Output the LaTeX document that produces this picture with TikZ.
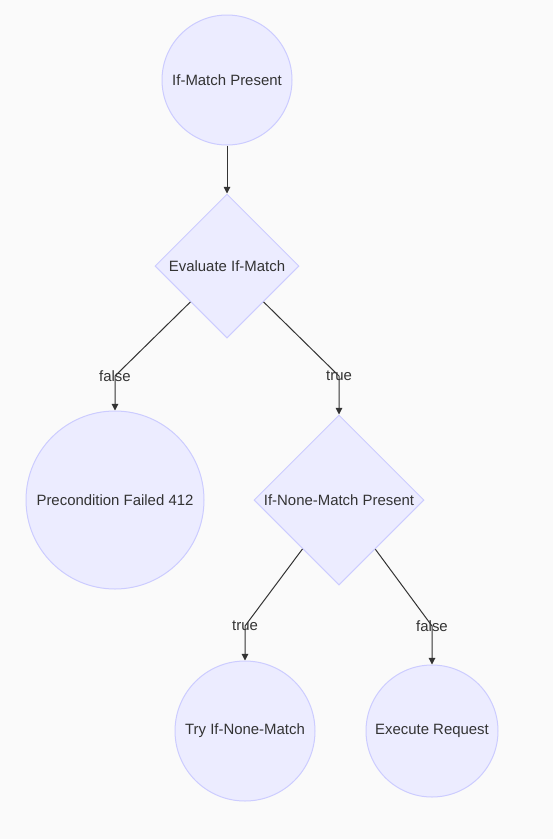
\documentclass[tikz,border=0pt]{standalone}
\usepackage{fontspec}
\setmainfont{Liberation Sans}
\usetikzlibrary{shapes.geometric,arrows.meta}
\definecolor{bg}{HTML}{FAFAFA}
\definecolor{nodefill}{HTML}{ECECFF}
\definecolor{nodeline}{HTML}{CCCCFF}
\definecolor{ink}{HTML}{333333}
\begin{document}
\begin{tikzpicture}[x=0.75pt,y=-0.75pt,
  every node/.style={font=\fontsize{11.2}{13.5}\selectfont, text=ink},
  stadium/.style={circle, draw=nodeline, fill=nodefill, line width=0.75pt, inner sep=0pt},
  decision/.style={diamond, aspect=1, draw=nodeline, fill=nodefill, line width=0.75pt, inner sep=0pt},
  link/.style={draw=ink, line width=0.75pt, -{Triangle[length=5pt,width=5pt]}},
  lbl/.style={inner sep=0pt}]
\fill[bg] (0,0) rectangle (553,839);
\useasboundingbox (0,0) rectangle (553,839);

\node[stadium, minimum size=97.5pt] (c1) at (227,80) {If-Match Present};
\node[decision, minimum size=108pt] (d2) at (227,266) {Evaluate If-Match};
\node[stadium, minimum size=133.5pt] (c3) at (115,500) {Precondition Failed 412};
\node[decision, minimum size=127.5pt] (d4) at (339,500) {If-None-Match Present};
\node[stadium, minimum size=105pt] (c5) at (245,731) {Try If-None-Match};
\node[stadium, minimum size=99pt] (c6) at (432,731) {Execute Request};

\coordinate (k1) at (115,376);
\coordinate (k2) at (339,376);
\coordinate (k3) at (245,626);
\coordinate (k4) at (432,626);

\draw[link] (c1) -- (d2);
\draw[link] (d2) -- (k1) -- (c3);
\draw[link] (d2) -- (k2) -- (d4);
\draw[link] (d4) -- (k3) -- (c5);
\draw[link] (d4) -- (k4) -- (c6);

\node[lbl] (l1) at (k1) {false};
\node[lbl] (l2) at (k2) {true};
\node[lbl] (l3) at (k3) {true};
\node[lbl] (l4) at (k4) {false};
\end{tikzpicture}
\end{document}
